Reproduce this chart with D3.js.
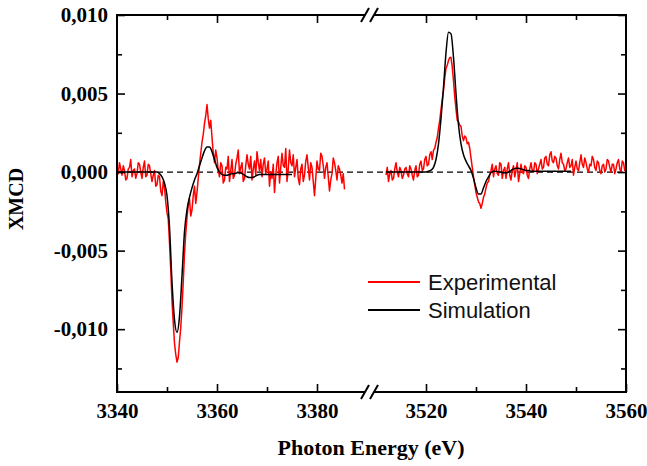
<!DOCTYPE html>
<html>
<head>
<meta charset="utf-8">
<script src="https://cdn.jsdelivr.net/npm/d3@7"></script>
<style>
  body { margin: 0; background: #fff; }
</style>
</head>
<body>
<svg id="chart" width="647" height="466"></svg>
<script>
// XMCD spectra, values in units of 1e-3, sampled on a regular energy grid from the given start
const EXP_STEP = 0.25; // eV between measured points
const SIM_STEP = 0.5;  // eV between simulated points
const UNIT = 1e-3;

const expLeftStart = 3340;
const expLeft = [
  0.3, -0.1, 0.6, 0.2, -0.2, 0.4, 0.1, -0.5, -0.4, 0.2,
  0.3, 0.8, -0.3, 0.1, 0.2, -0.4, -0.1, 0.6, 0.5, 0.0,
  -0.4, 0.3, 0.7, -0.3, -0.2, 0.5, 0.4, -0.1, -0.6, -0.2,
  0.1, -0.9, -0.8, -0.2, -0.3, -1.2, -1.5, -0.6, -1.0, -1.9,
  -2.6, -3.0, -4.5, -6.2, -8.2, -9.6, -10.9, -11.6, -12.1, -11.8,
  -10.8, -9.9, -8.6, -7.0, -5.2, -3.9, -2.9, -2.1, -1.7, -2.8,
  -2.4, -1.5, -0.9, -2.0, -1.3, -0.4, 0.5, 1.2, 1.9, 2.4,
  3.1, 3.6, 4.3, 3.4, 2.8, 3.3, 2.2, 1.2, 0.6, 1.4,
  0.9, 0.1, -0.3, 0.6, 0.4, -0.7, -0.5, 0.3, 0.2, 1.0,
  -0.6, 0.1, 0.8, -0.4, -0.2, 0.5, 0.9, 1.4, -0.1, 0.3,
  0.6, -0.6, -0.4, 0.4, 1.1, 0.5, 0.2, 1.0, -0.5, 0.2,
  0.7, -0.2, 1.3, 0.6, 0.1, 0.8, -0.3, 0.5, 0.9, -0.1,
  0.2, 0.7, -0.9, 0.0, -0.4, 0.5, -1.3, -0.2, 0.6, 1.0,
  -0.7, 0.3, 1.2, 0.4, 0.3, 1.5, -0.6, 0.2, 1.4, 0.6,
  0.4, 1.1, -0.3, 0.3, 0.8, -0.4, -0.8, 0.2, 0.5, -0.6,
  -0.2, 0.7, 1.1, 0.3, -0.5, 0.6, 0.3, -0.6, -1.5, -0.4,
  0.7, 0.2, 0.1, 1.2, 1.0, 0.4, -0.4, 0.3, 0.6, -0.3,
  -1.2, -0.5, -0.1, 0.9, 0.6, 0.1, -0.5, 0.4, 0.2, -0.2,
  -0.7, -0.1, -1.1
];

const expRightStart = 3512;
const expRight = [
  -0.2, 0.3, -0.6, -0.1, 0.1, -0.5, -0.4, 0.2, 0.6, 0.0,
  -0.3, 0.3, 0.1, -0.4, -0.2, 0.2, 0.3, -0.1, -0.3, 0.4,
  0.2, -0.2, -0.5, 0.1, 0.4, -0.3, -0.2, 0.5, 0.7, 0.1,
  0.2, 0.8, 1.0, 0.4, 0.5, 1.1, 1.3, 0.8, 1.4, 1.5,
  1.9, 2.2, 2.8, 3.3, 4.0, 4.6, 5.2, 6.0, 6.6, 6.8,
  7.1, 7.3, 7.3, 6.7, 5.8, 4.8, 4.0, 3.3, 3.2, 3.0,
  2.9, 2.3, 2.0, 2.3, 2.2, 1.8, 1.9, 1.5, 0.9, 0.3,
  -0.3, -0.8, -1.3, -1.6, -1.9, -2.0, -2.3, -2.0, -1.6, -1.4,
  -1.0, -0.7, -0.6, -0.2, 0.1, 0.5, -0.3, 0.2, 0.4, -0.1,
  -0.2, 0.6, 0.5, -0.4, 0.1, 0.3, -0.4, 0.2, 0.6, -0.2,
  -0.5, 0.1, 0.4, -0.3, 0.1, 0.6, -0.6, -0.1, 0.5, 0.0,
  -0.1, 0.4, 0.3, -0.2, -0.4, 0.2, 0.6, 0.1, 0.0, 0.6,
  0.5, -0.1, 0.2, 0.5, 0.8, 0.2, 0.3, 0.9, 1.0, 0.5,
  0.4, 1.1, 1.3, 0.7, 0.6, 1.0, 0.9, 0.4, 0.2, 0.8,
  1.2, 0.6, 0.5, 0.1, 0.2, 0.6, 0.9, 0.3, 0.4, 0.8,
  -0.2, 0.3, 0.7, 0.2, 0.1, 0.6, 1.1, 0.5, 0.3, 0.9,
  0.6, 0.2, 0.0, 0.5, 0.4, 1.0, 0.8, 0.3, 0.1, 0.7,
  0.6, 0.1, -0.1, 0.4, 0.5, 0.0, 0.2, 0.8, 0.7, 0.3,
  0.0, 0.5, 0.5, -0.1, 0.2, 0.6, 0.8, 0.2, 0.0, 0.7,
  0.6, 0.1, 0.3
];

const simLeftStart = 3340;
const simLeft = [
  0, 0, 0, 0, 0, 0, 0, 0, 0, 0,
  0, 0, 0, 0, 0, 0, 0, -0.1, -0.3, -0.7,
  -1.5, -3.5, -7.0, -9.4, -10.2, -9.2, -6.6, -3.8, -2.4, -1.6,
  -1.0, -0.5, -0.1, 0.4, 0.9, 1.35, 1.6, 1.6, 1.3, 0.8,
  0.3, 0.0, -0.15, -0.2, -0.2, -0.15, -0.1, -0.1, -0.05, -0.05,
  -0.1, -0.2, -0.3, -0.35, -0.35, -0.3, -0.2, -0.15, -0.15, -0.15,
  -0.15, -0.15, -0.15, -0.15, -0.15, -0.15, -0.15, -0.15, -0.15, -0.15,
  -0.15
];

const simRightStart = 3512;
const simRight = [
  0, 0, 0, 0, 0, 0, 0, 0, 0, 0,
  0, 0, 0, 0, 0, 0, 0, 0.05, 0.12, 0.3,
  0.8, 1.8, 3.4, 5.4, 7.6, 8.9, 8.8, 7.3, 5.0, 3.0,
  1.8, 1.1, 0.7, 0.4, 0.1, -0.4, -1.0, -1.4, -1.4, -1.0,
  -0.6, -0.3, -0.05, 0.05, 0.05, 0.0, 0.0, -0.05, -0.05, 0.0,
  0.1, 0.2, 0.25, 0.25, 0.2, 0.15, 0.1, 0.1, 0.05, 0.05,
  0.05, 0.05, 0.05, 0.05, 0.05, 0.05, 0.05, 0.05, 0.05, 0.05,
  0.05, 0.05, 0.05, 0.05, 0.05
];

// axis ranges and ticks
const xLeftDomain = [3340, 3390];
const xRightDomain = [3510, 3560];
const yDomain = [-0.014, 0.010];
const xLeftTicks = [3340, 3360, 3380];
const xLeftMinor = [3350, 3370];
const xRightTicks = [3520, 3540, 3560];
const xRightMinor = [3530, 3550];
const yTicks = [-0.010, -0.005, 0, 0.005, 0.010];
const yMinor = [-0.0125, -0.0075, -0.0025, 0.0025, 0.0075];

const seriesNames = ["Experimental", "Simulation"];
const seriesColors = ["#ff0000", "#000000"];

// layout
const L = 117, R = 626, T = 15, B = 392;
const BREAK_A = 365, BREAK_B = 374;
const SERIF = "'Liberation Serif','Times New Roman',serif";
const SANS = "'Liberation Sans',Arial,sans-serif";

const svg = d3.select("#chart");

const xL = d3.scaleLinear().domain(xLeftDomain).range([L, BREAK_A + 2]);
const xR = d3.scaleLinear().domain(xRightDomain).range([BREAK_B + 2, R]);
const y = d3.scaleLinear().domain(yDomain).range([B, T]);

const locale = d3.formatLocale({ decimal: ",", thousands: ".", grouping: [3], currency: ["", ""], minus: "-" });
const fmtY = locale.format(".3f");

function styleAxis(g) {
  g.select(".domain").remove();
  g.selectAll(".tick line").attr("stroke", "#000").attr("stroke-width", 1.6);
  g.selectAll(".tick text")
    .attr("font-family", SERIF)
    .attr("font-weight", "bold")
    .attr("font-size", 21)
    .attr("fill", "#000");
}

// zero reference
svg.append("line")
  .attr("x1", L).attr("x2", R)
  .attr("y1", y(0)).attr("y2", y(0))
  .attr("stroke", "#000").attr("stroke-width", 1.2)
  .attr("stroke-dasharray", "6,4");

// data lines
function toPoints(start, step, vals) {
  return vals.map((v, i) => [start + i * step, v * UNIT]);
}
const lineLeft = d3.line().x(d => xL(d[0])).y(d => y(d[1]));
const lineRight = d3.line().x(d => xR(d[0])).y(d => y(d[1]));
const smoothLeft = d3.line().x(d => xL(d[0])).y(d => y(d[1])).curve(d3.curveMonotoneX);
const smoothRight = d3.line().x(d => xR(d[0])).y(d => y(d[1])).curve(d3.curveMonotoneX);

const plot = svg.append("g").attr("fill", "none").attr("stroke-linejoin", "round");
plot.append("path").attr("d", lineLeft(toPoints(expLeftStart, EXP_STEP, expLeft)))
  .attr("stroke", seriesColors[0]).attr("stroke-width", 1.5);
plot.append("path").attr("d", lineRight(toPoints(expRightStart, EXP_STEP, expRight)))
  .attr("stroke", seriesColors[0]).attr("stroke-width", 1.5);
plot.append("path").attr("d", smoothLeft(toPoints(simLeftStart, SIM_STEP, simLeft)))
  .attr("stroke", seriesColors[1]).attr("stroke-width", 1.5);
plot.append("path").attr("d", smoothRight(toPoints(simRightStart, SIM_STEP, simRight)))
  .attr("stroke", seriesColors[1]).attr("stroke-width", 1.5);

// frame with axis break on top and bottom
const frame = svg.append("g").attr("stroke", "#000").attr("stroke-width", 2).attr("fill", "none");
frame.append("line").attr("x1", L).attr("x2", L).attr("y1", T - 1).attr("y2", B + 1);
frame.append("line").attr("x1", R).attr("x2", R).attr("y1", T - 1).attr("y2", B + 1);
[T, B].forEach(yy => {
  frame.append("line").attr("x1", L).attr("x2", BREAK_A).attr("y1", yy).attr("y2", yy);
  frame.append("line").attr("x1", BREAK_B).attr("x2", R).attr("y1", yy).attr("y2", yy);
  [BREAK_A, BREAK_B].forEach(cx => {
    frame.append("line")
      .attr("x1", cx - 4).attr("y1", yy + 7)
      .attr("x2", cx + 4).attr("y2", yy - 7);
  });
});

// x axes (bottom labelled, top ticks only)
svg.append("g").attr("transform", `translate(0,${B})`)
  .call(d3.axisBottom(xL).tickValues(xLeftTicks).tickSize(-8).tickPadding(11).tickFormat(d3.format("d")))
  .call(styleAxis);
svg.append("g").attr("transform", `translate(0,${B})`)
  .call(d3.axisBottom(xR).tickValues(xRightTicks).tickSize(-8).tickPadding(11).tickFormat(d3.format("d")))
  .call(styleAxis);
svg.append("g").attr("transform", `translate(0,${B})`)
  .call(d3.axisBottom(xL).tickValues(xLeftMinor).tickSize(-5).tickFormat(""))
  .call(styleAxis);
svg.append("g").attr("transform", `translate(0,${B})`)
  .call(d3.axisBottom(xR).tickValues(xRightMinor).tickSize(-5).tickFormat(""))
  .call(styleAxis);

svg.append("g").attr("transform", `translate(0,${T})`)
  .call(d3.axisTop(xL).tickValues(xLeftTicks.filter(d => d !== 3340)).tickSize(-8).tickFormat(""))
  .call(styleAxis);
svg.append("g").attr("transform", `translate(0,${T})`)
  .call(d3.axisTop(xR).tickValues(xRightTicks.filter(d => d !== 3560)).tickSize(-8).tickFormat(""))
  .call(styleAxis);
svg.append("g").attr("transform", `translate(0,${T})`)
  .call(d3.axisTop(xL).tickValues(xLeftMinor).tickSize(-5).tickFormat(""))
  .call(styleAxis);
svg.append("g").attr("transform", `translate(0,${T})`)
  .call(d3.axisTop(xR).tickValues(xRightMinor).tickSize(-5).tickFormat(""))
  .call(styleAxis);

// y axes (left labelled, right ticks only)
svg.append("g").attr("transform", `translate(${L},0)`)
  .call(d3.axisLeft(y).tickValues(yTicks).tickSize(-8).tickPadding(9).tickFormat(fmtY))
  .call(styleAxis);
svg.append("g").attr("transform", `translate(${L},0)`)
  .call(d3.axisLeft(y).tickValues(yMinor).tickSize(-5).tickFormat(""))
  .call(styleAxis);
svg.append("g").attr("transform", `translate(${R},0)`)
  .call(d3.axisRight(y).tickValues(yTicks).tickSize(-8).tickFormat(""))
  .call(styleAxis);
svg.append("g").attr("transform", `translate(${R},0)`)
  .call(d3.axisRight(y).tickValues(yMinor).tickSize(-5).tickFormat(""))
  .call(styleAxis);

// axis titles
svg.append("text")
  .attr("x", 371).attr("y", 455)
  .attr("text-anchor", "middle")
  .attr("font-family", SERIF).attr("font-weight", "bold").attr("font-size", 22)
  .text("Photon Energy (eV)");
svg.append("text")
  .attr("transform", "translate(23,199) rotate(-90)")
  .attr("text-anchor", "middle")
  .attr("font-family", SERIF).attr("font-weight", "bold").attr("font-size", 20)
  .text("XMCD");

// legend
const legend = svg.append("g").attr("transform", "translate(368,282)");
seriesNames.forEach((name, i) => {
  const row = legend.append("g").attr("transform", `translate(0,${i * 28})`);
  row.append("line").attr("x1", 0).attr("x2", 52).attr("y1", 0).attr("y2", 0)
    .attr("stroke", seriesColors[i]).attr("stroke-width", 2);
  row.append("text").attr("x", 60).attr("y", 8)
    .attr("font-family", SANS).attr("font-size", 22).attr("fill", "#111")
    .text(name);
});
</script>
</body>
</html>
